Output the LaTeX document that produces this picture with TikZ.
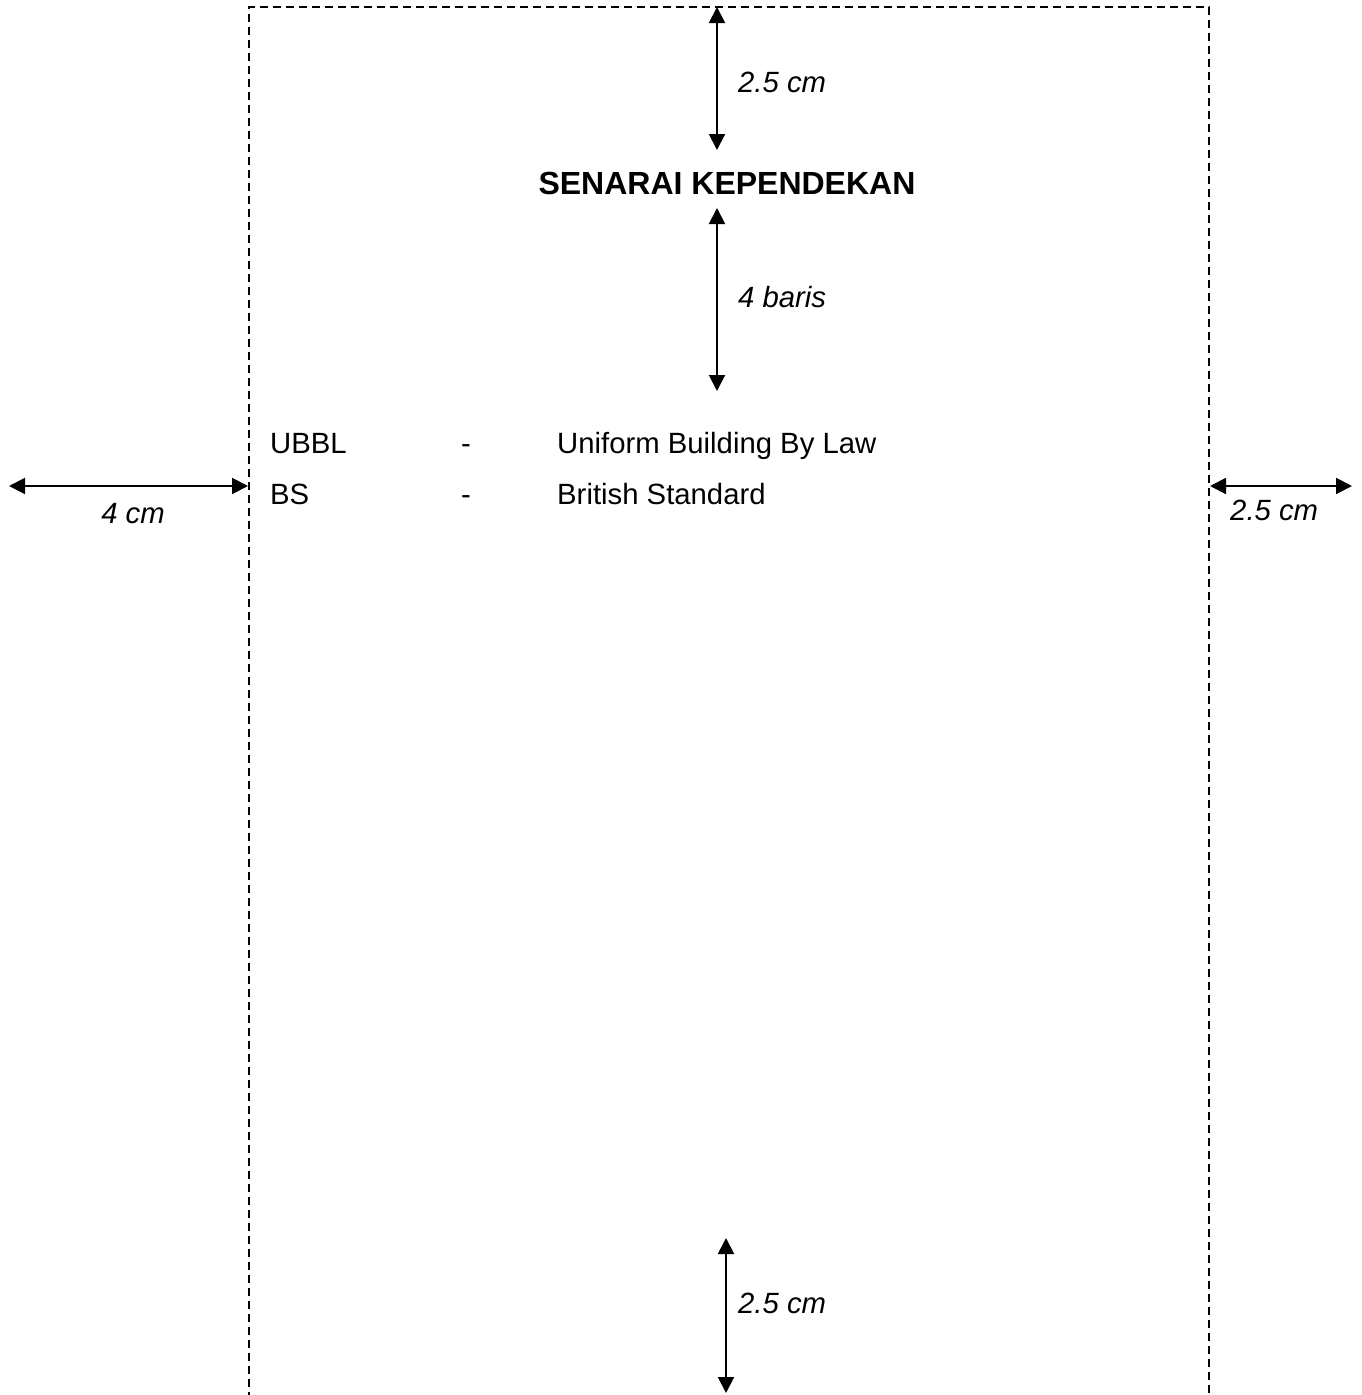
\documentclass[tikz,border=0pt]{standalone}
\usepackage{fontspec}
\setmainfont{Liberation Sans}
\usetikzlibrary{arrows.meta}
\tikzset{
  frame/.style={line width=1.5pt, dash pattern=on 8pt off 5pt},
  dim/.style={line width=2pt, {Triangle[width=16pt,length=16pt]}-{Triangle[width=16pt,length=16pt]}},
  lbl/.style={font=\fontsize{29.3pt}{34pt}\selectfont\itshape, inner sep=0pt, anchor=base west},
  txt/.style={font=\fontsize{29.3pt}{34pt}\selectfont, inner sep=0pt, anchor=base west},
  ttl/.style={font=\fontsize{32pt}{38pt}\selectfont\bfseries, inner sep=0pt, anchor=base}
}
\begin{document}
\begin{tikzpicture}[x=1pt,y=-1pt]
\useasboundingbox (0,0) rectangle (1361,1395);
% frame
\coordinate (fbl) at (249,1400);
\coordinate (ftl) at (249,7);
\coordinate (ftr) at (1209,7);
\coordinate (fbr) at (1209,1400);
\draw[frame] (fbl) -- (ftl) -- (ftr) -- (fbr);
% top dimension
\coordinate (t1) at (717,7);
\coordinate (t2) at (717,150);
\draw[dim] (t1) -- (t2);
\node[lbl] (tl) at (738,92) {2.5 cm};
% title
\node[ttl] (title) at (727,194) {SENARAI KEPENDEKAN};
% 4 baris
\coordinate (b1) at (717,208);
\coordinate (b2) at (717,391);
\draw[dim] (b1) -- (b2);
\node[lbl] (bl) at (738,307) {4 baris};
% entries
\node[txt] (a1) at (270,453) {UBBL};
\node[txt] (a2) at (461,453) {-};
\node[txt] (a3) at (557,453) {Uniform Building By Law};
\node[txt] (c1) at (270,504) {BS};
\node[txt] (c2) at (461,504) {-};
\node[txt] (c3) at (557,504) {British Standard};
% left dimension
\coordinate (l1) at (9,486);
\coordinate (l2) at (248,486);
\draw[dim] (l1) -- (l2);
\node[lbl, anchor=base] (ll) at (133,523) {4 cm};
% right dimension
\coordinate (r1) at (1210,486);
\coordinate (r2) at (1352,486);
\draw[dim] (r1) -- (r2);
\node[lbl] (rl) at (1230,520) {2.5 cm};
% bottom dimension
\coordinate (d1) at (726,1238);
\coordinate (d2) at (726,1393);
\draw[dim] (d1) -- (d2);
\node[lbl] (dl) at (738,1313) {2.5 cm};
\end{tikzpicture}
\end{document}
